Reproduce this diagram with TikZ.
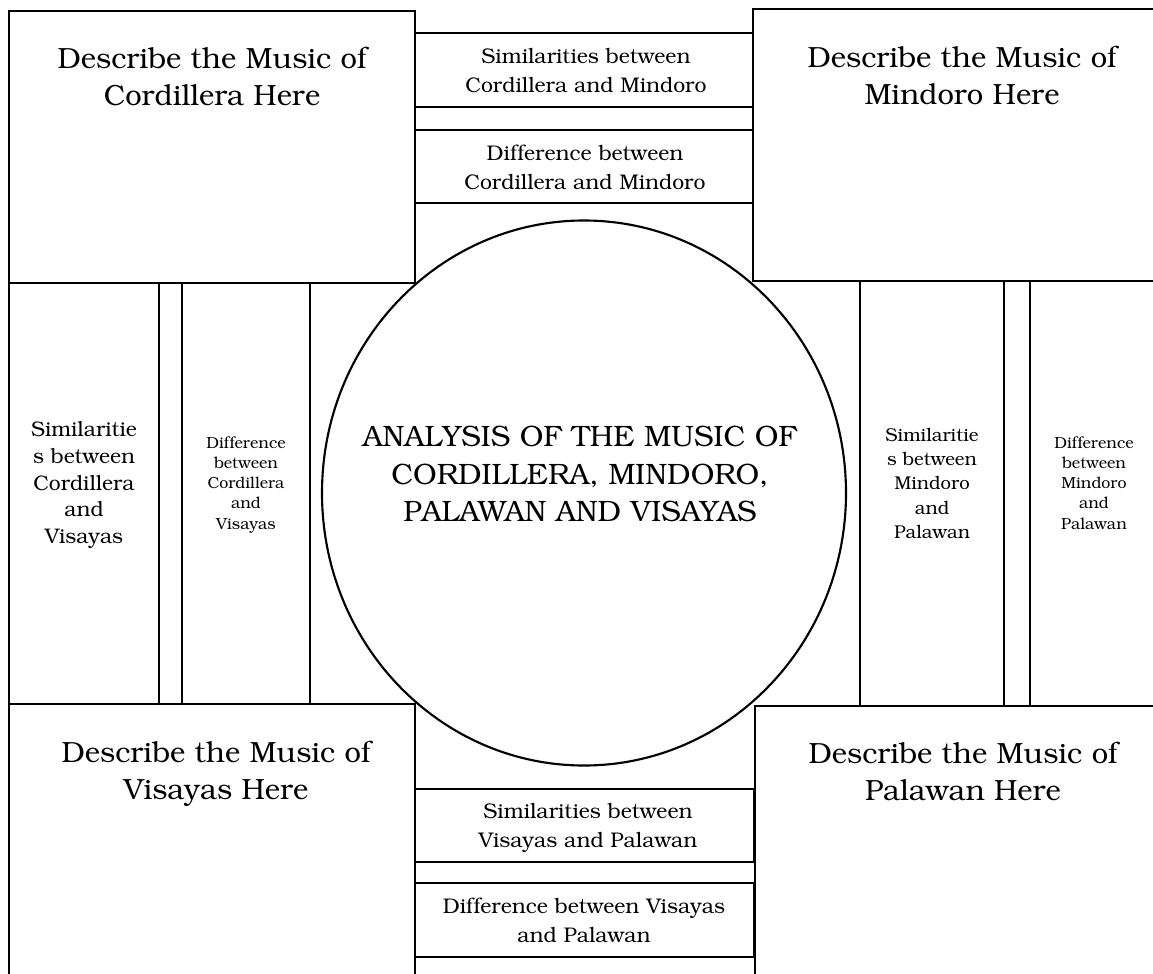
\documentclass[tikz,border=0pt]{standalone}
\usepackage[T1]{fontenc}
\usepackage{bookman}
\usetikzlibrary{shapes.geometric}
\begin{document}
\begin{tikzpicture}[x=0.75pt,y=-0.75pt,
  panel/.style={draw=black,line width=1.6pt},
  lbl/.style={align=center,inner sep=0pt,anchor=north,text=black},
  bigtxt/.style={font=\fontsize{21.9}{27.75}\selectfont},
  midtxt/.style={font=\fontsize{15.9}{21.75}\selectfont},
  coltxt/.style={font=\fontsize{15.8}{20}\selectfont},
  rcoltxt/.style={font=\fontsize{13.9}{18.2}\selectfont},
  smalltxt/.style={font=\fontsize{12}{15.2}\selectfont}]
\useasboundingbox (0,0) rectangle (1153,974);
\clip (0,0) rectangle (1153,974);
\fill[white] (0,0) rectangle (1153,974);
% corner panels
\draw[panel] (9,11) rectangle (415,283);
\draw[panel] (753,9) rectangle (1165,281);
\draw[panel] (9,704) rectangle (415,990);
\draw[panel] (755,706) rectangle (1165,990);
% top strips
\draw[panel] (415,33) rectangle (753,107);
\draw[panel] (415,130) rectangle (753,203);
% bottom strips
\draw[panel] (415,789) rectangle (754,862);
\draw[panel] (415,883) rectangle (754,957);
% left columns
\draw[panel] (9,283) rectangle (159,704);
\draw[panel] (182,283) rectangle (310,704);
% right columns
\draw[panel] (860,281) rectangle (1004,706);
\draw[panel] (1030,281) rectangle (1165,706);
% central ellipse
\node[ellipse,panel,minimum width=393pt,minimum height=408.75pt,inner sep=0pt,outer sep=0pt] (hub) at (584,493) {};
% texts
\node[lbl,bigtxt] (tl) at (212,47) {Describe the Music of\\Cordillera Here};
\node[lbl,bigtxt] (tr) at (962,46) {Describe the Music of\\Mindoro Here};
\node[lbl,bigtxt] (bl) at (216,741) {Describe the Music of\\Visayas Here};
\node[lbl,bigtxt] (br) at (963,742) {Describe the Music of\\Palawan Here};
\node[lbl,font=\fontsize{22.1}{28}\selectfont] (hubtext) at (580,426) {ANALYSIS OF THE MUSIC OF\\CORDILLERA, MINDORO,\\PALAWAN AND VISAYAS};
\node[lbl,midtxt] (simcm) at (586,48) {Similarities between\\Cordillera and Mindoro};
\node[lbl,midtxt] (difcm) at (585,145) {Difference between\\Cordillera and Mindoro};
\node[lbl,midtxt] (simvp) at (588,803) {Similarities between\\Visayas and Palawan};
\node[lbl,midtxt] (difvp) at (584,898) {Difference between Visayas\\and Palawan};
\node[lbl,coltxt] (simcv) at (84,422) {Similaritie\\s between\\Cordillera\\and\\Visayas};
\node[lbl,smalltxt] (difcv) at (246,436) {Difference\\between\\Cordillera\\and\\Visayas};
\node[lbl,rcoltxt] (simmp) at (932,428) {Similaritie\\s between\\Mindoro\\and\\Palawan};
\node[lbl,smalltxt] (difmp) at (1094,436) {Difference\\between\\Mindoro\\and\\Palawan};
\end{tikzpicture}
\end{document}
